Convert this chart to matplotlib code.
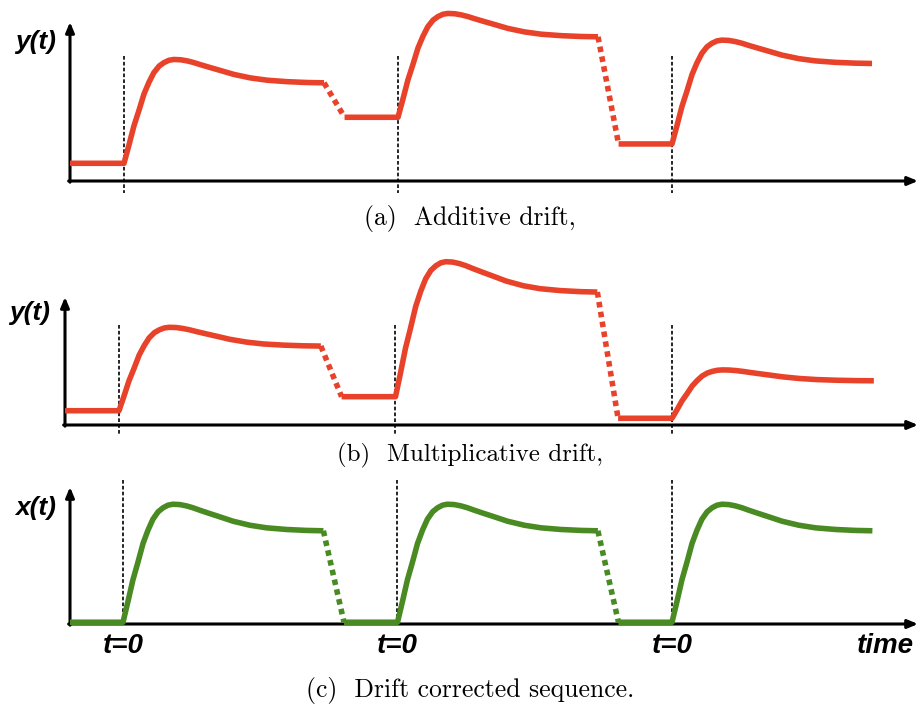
import matplotlib
matplotlib.use("Agg")
import matplotlib.pyplot as plt
import numpy as np

# ---------------- data ----------------
# normalised response shape (time after onset, value)
SHAPE_T = [0.0, 0.18, 0.36, 0.55, 0.73, 0.91, 1.09, 1.28, 1.46, 1.64, 1.82, 2.07, 2.31,
           2.55, 2.80, 3.16, 3.53, 4.01, 4.62, 5.23, 5.96, 6.69, 7.30]
SHAPE_V = [0.0, 0.175, 0.358, 0.513, 0.668, 0.780, 0.873, 0.936, 0.970, 0.992, 1.0, 0.997,
           0.986, 0.970, 0.949, 0.921, 0.893, 0.856, 0.822, 0.800, 0.786, 0.778, 0.775]
ONSETS = [0, 10, 20]          # stimulus onsets (t=0 markers)
DROP_END = 8.05               # time after onset where dashed drop reaches next baseline

# panel (a): additive drift
BASE_A = [0.15, 0.54, 0.314]
GAIN_A = [0.88, 0.88, 0.88]
# panel (b): multiplicative drift
BASE_B = [0.121, 0.24, 0.057]
GAIN_B = [0.707, 1.144, 0.41]
# panel (c): drift corrected
BASE_C = [0.015, 0.015, 0.015]
GAIN_C = [1.0, 1.0, 1.0]

CAPTIONS = ["(a)  Additive drift,", "(b)  Multiplicative drift,", "(c)  Drift corrected sequence."]
YLABELS = ["y(t)", "y(t)", "x(t)"]
TICK_LABEL = "t=0"
XLABEL = "time"

RED = "#E8432A"
GREEN = "#4A8A22"

W, H = 919, 706
fig = plt.figure(figsize=(W / 100, H / 100), dpi=100)

PX_PER_V = 118.0

# layout per panel (pixels)
panels = [
    dict(top=0, bot=205, axis_y=181, yaxis_x=70, onset0=124, ppu=27.4, ytop=22,
         vtop=56, vbot=193, base=BASE_A, gain=GAIN_A, color=RED,
         lab_xy=(36, 42), cap_y=218, cap_fs=18.5),
    dict(top=240, bot=445, axis_y=425, yaxis_x=65, onset0=119, ppu=27.65, ytop=297,
         vtop=325, vbot=435, base=BASE_B, gain=GAIN_B, color=RED,
         lab_xy=(30, 313), cap_y=455, cap_fs=18),
    dict(top=470, bot=640, axis_y=624, yaxis_x=70, onset0=123, ppu=27.45, ytop=487,
         vtop=480, vbot=624, base=BASE_C, gain=GAIN_C, color=GREEN,
         lab_xy=(36, 508), cap_y=690, cap_fs=18.5),
]

lab_font = dict(family="Liberation Sans", weight="bold", style="italic")

for i, p in enumerate(panels):
    ax = fig.add_axes([0, 1 - p["bot"] / H, 1, (p["bot"] - p["top"]) / H])
    ax.set_axis_off()
    x2t = lambda px, p=p: (px - p["onset0"]) / p["ppu"]
    y2v = lambda py, p=p: (p["axis_y"] - py) / PX_PER_V
    ax.set_xlim(x2t(0), x2t(W))
    ax.set_ylim(y2v(p["bot"]), y2v(p["top"]))

    t_axis = x2t(p["yaxis_x"])
    # axes arrows
    ax.annotate("", xy=(x2t(W - 1), 0), xytext=(t_axis - 0.05, 0),
                arrowprops=dict(arrowstyle="-|>,head_length=0.6,head_width=0.25",
                                lw=2.2, color="black", shrinkA=0, shrinkB=0), zorder=2)
    ax.annotate("", xy=(t_axis, y2v(p["ytop"])), xytext=(t_axis, -0.01),
                arrowprops=dict(arrowstyle="-|>,head_length=0.6,head_width=0.25",
                                lw=2.2, color="black", shrinkA=0, shrinkB=0), zorder=2)

    # onset dashed lines
    for on in ONSETS:
        ax.plot([on, on], [y2v(p["vtop"]), y2v(p["vbot"])], color="black", lw=1.2,
                linestyle=(0, (2.2, 1.3)), zorder=1)

    st = np.array(SHAPE_T)
    sv = np.array(SHAPE_V)
    prev_start = t_axis
    for k, on in enumerate(ONSETS):
        b, g = p["base"][k], p["gain"][k]
        tt = np.concatenate([[prev_start], on + st])
        vv = np.concatenate([[b], b + g * sv])
        ax.plot(tt, vv, color=p["color"], lw=4.0, solid_capstyle="butt",
                solid_joinstyle="round", zorder=3)
        if k + 1 < len(ONSETS):
            nb = p["base"][k + 1]
            ax.plot([on + st[-1], on + DROP_END], [vv[-1], nb], color=p["color"], lw=4.0,
                    linestyle=(0, (1.0, 0.8)), dash_capstyle="butt", zorder=3)
            prev_start = on + DROP_END

    # y label
    fig.text(p["lab_xy"][0] / W, 1 - p["lab_xy"][1] / H, YLABELS[i], ha="center",
             va="center", fontsize=19, **lab_font)
    # caption
    fig.text(470 / W, 1 - p["cap_y"] / H, CAPTIONS[i], ha="center", va="center",
             fontsize=p["cap_fs"], family="cmr10")

    if i == 2:
        for on in ONSETS:
            ax.text(on, y2v(646), TICK_LABEL, ha="center", va="center", fontsize=20,
                    **lab_font)
        ax.text(x2t(885), y2v(646), XLABEL, ha="center", va="center", fontsize=20,
                **lab_font)

fig.savefig("out.png", dpi=100)
